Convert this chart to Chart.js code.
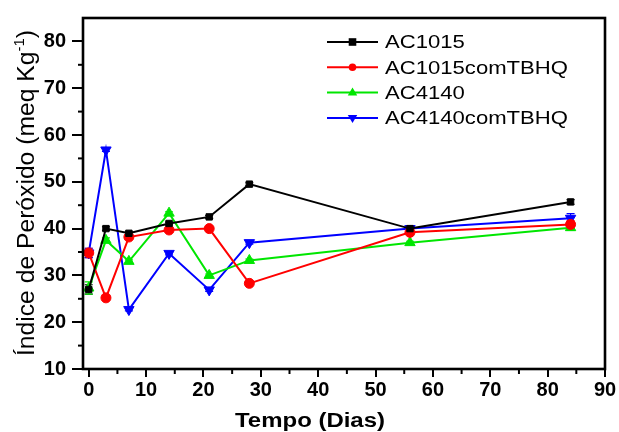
<!DOCTYPE html>
<html>
<head>
<meta charset="utf-8">
<script src="https://cdn.jsdelivr.net/npm/chart.js@4.4.1/dist/chart.umd.min.js"></script>
<style>
  html, body { margin: 0; padding: 0; background: #fff; }
  #wrap { width: 619px; height: 432px; }
</style>
</head>
<body>
<div id="wrap"><canvas id="chart" width="619" height="432"></canvas></div>
<script>
// Tempo (dias) e índice de peróxido
const days = [0, 3, 7, 14, 21, 28, 56, 84];
const ac1015 = [27.0, 40.0, 39.0, 41.1, 42.5, 49.5, 40.0, 45.7];
const ac1015TBHQ = [34.8, 25.2, 38.2, 39.7, 40.0, 28.3, 39.2, 40.9];
const ac4140 = [27.3, 37.5, 33.0, 43.3, 30.0, 33.2, 37.0, 40.2];
const ac4140TBHQ = [34.8, 56.8, 22.7, 34.7, 26.9, 37.0, 40.0, 42.2];

// desvios (barras de erro)
const errAc1015 = [1.0, 0.4, 0.3, 0.3, 0.3, 0.3, 0.3, 0.5];
const errAc1015TBHQ = [1.0, 0.3, 0.3, 0.3, 0.3, 0.3, 0.3, 0.8];
const errAc4140 = [1.3, 0.5, 0.3, 0.3, 0.3, 0.3, 0.3, 0.6];
const errAc4140TBHQ = [1.0, 0.3, 0.3, 0.3, 0.3, 0.3, 0.3, 1.0];

const seriesNames = ['AC1015', 'AC1015comTBHQ', 'AC4140', 'AC4140comTBHQ'];
const xTickLabels = [0, 10, 20, 30, 40, 50, 60, 70, 80, 90];
const yTickLabels = [10, 20, 30, 40, 50, 60, 70, 80];

const xTitle = 'Tempo (Dias)';
const yTitle = 'Índice de Peróxido (meq Kg';

const FONT = '"Liberation Sans", Arial, sans-serif';

const toPoints = (vals) => days.map((d, i) => ({ x: d, y: vals[i] }));

const styles = [
    { color: '#000000', point: 'rect', radius: 4.5, rot: 0 },
    { color: '#ff0000', point: 'circle', radius: 5, rot: 0 },
    { color: '#00e600', point: 'triangle', radius: 6, rot: 0 },
    { color: '#0000ff', point: 'triangle', radius: 6, rot: 180 }
];
const allValues = [ac1015, ac1015TBHQ, ac4140, ac4140TBHQ];
const allErrors = [errAc1015, errAc1015TBHQ, errAc4140, errAc4140TBHQ];

const datasets = allValues.map((vals, i) => ({
    label: seriesNames[i],
    data: toPoints(vals),
    errors: allErrors[i],
    borderColor: styles[i].color,
    backgroundColor: styles[i].color,
    borderWidth: 2,
    pointStyle: styles[i].point,
    pointRadius: styles[i].radius,
    pointRotation: styles[i].rot,
    pointBorderWidth: 1,
    tension: 0
}));

function drawMarker(ctx, style, x, y, r) {
    ctx.beginPath();
    if (style.point === 'rect') {
        ctx.rect(x - r, y - r, 2 * r, 2 * r);
    } else if (style.point === 'circle') {
        ctx.arc(x, y, r, 0, Math.PI * 2);
    } else {
        const dir = style.rot === 180 ? 1 : -1;
        ctx.moveTo(x, y + dir * r);
        ctx.lineTo(x - r * 0.95, y - dir * r * 0.6);
        ctx.lineTo(x + r * 0.95, y - dir * r * 0.6);
        ctx.closePath();
    }
    ctx.fillStyle = style.color;
    ctx.fill();
}

function stretchText(ctx, text, x, y, width, font, align) {
    ctx.save();
    ctx.font = font;
    const w = ctx.measureText(text).width;
    const s = width / w;
    ctx.translate(x, y);
    ctx.scale(s, 1);
    ctx.textAlign = 'left';
    let start = 0;
    if (align === 'center') start = -w / 2;
    ctx.fillText(text, start, 0);
    ctx.restore();
}

const decor = {
    id: 'decor',
    beforeDatasetsDraw(chart) {
        // barras de erro
        const ctx = chart.ctx;
        const xs = chart.scales.x, ys = chart.scales.y;
        ctx.save();
        chart.data.datasets.forEach((ds) => {
            ctx.strokeStyle = ds.borderColor;
            ctx.lineWidth = 1.2;
            ds.data.forEach((p, i) => {
                const e = ds.errors[i];
                if (!e) return;
                const px = xs.getPixelForValue(p.x);
                const top = ys.getPixelForValue(p.y + e);
                const bot = ys.getPixelForValue(p.y - e);
                ctx.beginPath();
                ctx.moveTo(px, top); ctx.lineTo(px, bot);
                ctx.moveTo(px - 4, top); ctx.lineTo(px + 4, top);
                ctx.moveTo(px - 4, bot); ctx.lineTo(px + 4, bot);
                ctx.stroke();
            });
        });
        ctx.restore();
    },
    afterDraw(chart) {
        const ctx = chart.ctx;
        const a = chart.chartArea;
        const xs = chart.scales.x, ys = chart.scales.y;
        ctx.save();

        // ticks menores
        ctx.strokeStyle = '#000';
        ctx.lineWidth = 2;
        for (let v = 5; v < 90; v += 10) {
            const px = xs.getPixelForValue(v);
            ctx.beginPath(); ctx.moveTo(px, a.bottom); ctx.lineTo(px, a.bottom + 5); ctx.stroke();
        }
        for (let v = 15; v < 85; v += 10) {
            const py = ys.getPixelForValue(v);
            ctx.beginPath(); ctx.moveTo(a.left, py); ctx.lineTo(a.left - 5, py); ctx.stroke();
        }

        // moldura
        ctx.lineWidth = 2.6;
        ctx.strokeRect(a.left, a.top, a.right - a.left, a.bottom - a.top);

        // título eixo x
        ctx.fillStyle = '#000';
        ctx.textBaseline = 'alphabetic';
        stretchText(ctx, xTitle, 310, 427, 150, 'bold 20px ' + FONT, 'center');

        // título eixo y (com sobrescrito)
        ctx.save();
        ctx.translate(34, 193);
        ctx.rotate(-Math.PI / 2);
        const mainFont = '23px ' + FONT, supFont = '14px ' + FONT;
        ctx.font = mainFont;
        const w1 = ctx.measureText(yTitle).width;
        const w3 = ctx.measureText(')').width;
        ctx.font = supFont;
        const w2 = ctx.measureText('-1').width;
        const total = w1 + w2 + w3;
        ctx.scale(326 / total, 1);
        let cx = -total / 2;
        ctx.font = mainFont;
        ctx.fillText(yTitle, cx, 0); cx += w1;
        ctx.font = supFont;
        ctx.fillText('-1', cx, -10); cx += w2;
        ctx.font = mainFont;
        ctx.fillText(')', cx, 0);
        ctx.restore();

        // legenda
        chart.data.datasets.forEach((ds, i) => {
            const y = 42 + i * 25.3;
            ctx.strokeStyle = ds.borderColor;
            ctx.lineWidth = 2;
            ctx.beginPath(); ctx.moveTo(327, y); ctx.lineTo(378, y); ctx.stroke();
            drawMarker(ctx, styles[i], 352.5, y, styles[i].point === 'triangle' ? 5 : 3.8);
            ctx.fillStyle = '#000';
            ctx.textBaseline = 'middle';
            ctx.font = '19px ' + FONT;
            const natural = ctx.measureText(ds.label).width;
            const full = ctx.measureText(seriesNames[1]).width;
            stretchText(ctx, ds.label, 385, y + 1, natural * 183 / full, '19px ' + FONT, 'left');
        });

        ctx.restore();
    }
};

new Chart(document.getElementById('chart'), {
    type: 'line',
    data: { datasets: datasets },
    options: {
        responsive: false,
        animation: false,
        layout: { padding: { top: 14, right: 14, left: 0, bottom: 0 } },
        plugins: { legend: { display: false }, tooltip: { enabled: false } },
        scales: {
            x: {
                type: 'linear',
                min: -1,
                max: 90,
                border: { display: false },
                grid: {
                    drawOnChartArea: false,
                    drawTicks: true,
                    tickLength: 8,
                    lineWidth: 2,
                    color: (c) => (c.tick && xTickLabels.includes(c.tick.value)) ? '#000' : 'rgba(0,0,0,0)'
                },
                ticks: {
                    stepSize: 5,
                    includeBounds: false,
                    autoSkip: false,
                    maxRotation: 0,
                    padding: 1,
                    color: '#000',
                    font: { family: FONT, size: 20, weight: 'bold' },
                    callback: (v) => xTickLabels.includes(v) ? String(v) : ''
                },
                afterFit: (s) => { s.height = 63; }
            },
            y: {
                type: 'linear',
                min: 10,
                max: 85,
                border: { display: false },
                grid: {
                    drawOnChartArea: false,
                    drawTicks: true,
                    tickLength: 11,
                    lineWidth: 2,
                    color: (c) => (c.tick && yTickLabels.includes(c.tick.value)) ? '#000' : 'rgba(0,0,0,0)'
                },
                ticks: {
                    stepSize: 5,
                    includeBounds: false,
                    autoSkip: false,
                    padding: 6,
                    color: '#000',
                    font: { family: FONT, size: 20, weight: 'bold' },
                    callback: (v) => yTickLabels.includes(v) ? String(v) : ''
                },
                afterFit: (s) => { s.width = 83; }
            }
        }
    },
    plugins: [decor]
});
</script>
</body>
</html>
